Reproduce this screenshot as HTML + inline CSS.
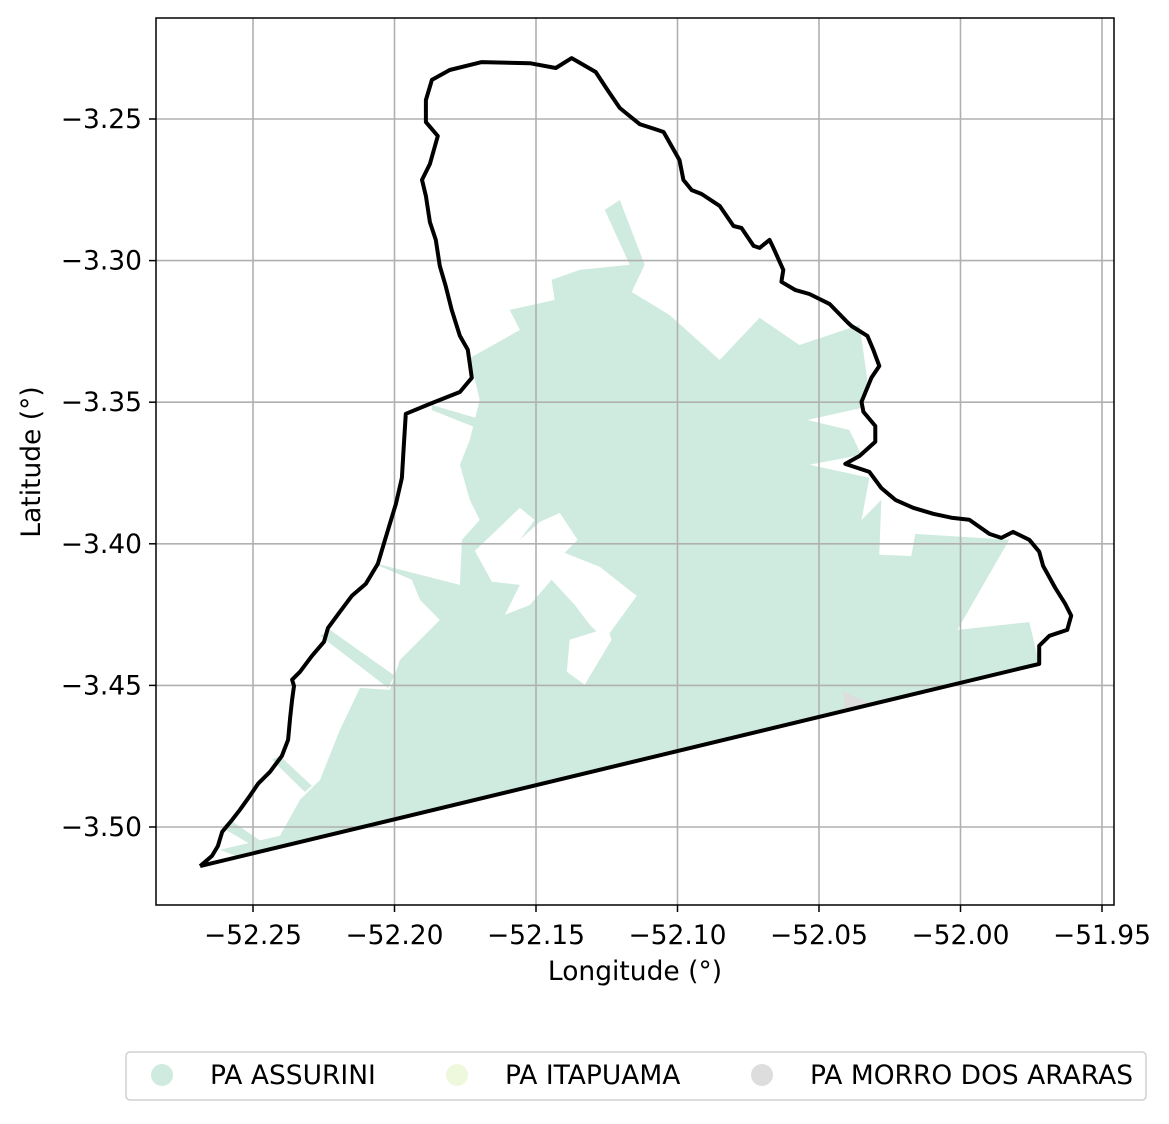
<!DOCTYPE html>
<html><head><meta charset="utf-8"><style>
body{margin:0;background:#fff;font-family:"Liberation Sans","DejaVu Sans",sans-serif}
svg text{font-family:"DejaVu Sans","Liberation Sans",sans-serif}
</style></head><body>
<svg id="chart" width="1169" height="1119" xmlns="http://www.w3.org/2000/svg">
<rect width="1169" height="1119" fill="#fff"/>
<g id="fills"></g>
<g id="grid"></g>
<g id="outline"></g>
<rect x="156" y="18" width="958" height="887" fill="none" stroke="#000" stroke-width="1.5"/>
<g id="xticks"></g>
<g id="yticks"></g>
<text x="635" y="980" font-size="26.5" text-anchor="middle">Longitude (°)</text>
<text transform="translate(40,462) rotate(-90)" font-size="26.5" text-anchor="middle">Latitude (°)</text>
<g>
<rect x="126" y="1052" width="1020" height="48" rx="4" fill="#fff" stroke="#d0d0d0" stroke-width="1.5"/>
<g><circle cx="162" cy="1075" r="11" fill="#cfebdf"/><text x="210" y="1084" font-size="26.5">PA ASSURINI</text></g>
<g><circle cx="457" cy="1075" r="11" fill="#edf8dc"/><text x="505" y="1084" font-size="26.5">PA ITAPUAMA</text></g>
<g><circle cx="762" cy="1075" r="11" fill="#dddddd"/><text x="810" y="1084" font-size="26.5">PA MORRO DOS ARARAS</text></g>
</g>
</svg>
<script>
const xTicks=[-52.25,-52.20,-52.15,-52.10,-52.05,-52.00,-51.95];
const yTicks=[-3.25,-3.30,-3.35,-3.40,-3.45,-3.50];
const boundaryLon=[-52.2687,-52.2645,-52.2624,-52.2609,-52.2574,-52.2546,-52.2511,-52.2482,-52.2440,-52.2398,-52.2376,-52.2369,-52.2362,-52.2355,-52.2362,-52.2334,-52.2292,-52.2249,-52.2235,-52.2193,-52.2151,-52.2101,-52.2059,-52.2023,-52.1995,-52.1974,-52.1967,-52.1960,-52.1875,-52.1769,-52.1727,-52.1741,-52.1769,-52.1798,-52.1819,-52.1840,-52.1854,-52.1875,-52.1889,-52.1903,-52.1875,-52.1847,-52.1889,-52.1889,-52.1868,-52.1805,-52.1692,-52.1522,-52.1430,-52.1374,-52.1289,-52.1247,-52.1204,-52.1134,-52.1070,-52.1049,-52.0993,-52.0979,-52.0950,-52.0915,-52.0851,-52.0802,-52.0774,-52.0731,-52.0710,-52.0675,-52.0661,-52.0626,-52.0633,-52.0583,-52.0534,-52.0463,-52.0400,-52.0385,-52.0329,-52.0308,-52.0287,-52.0315,-52.0350,-52.0343,-52.0301,-52.0301,-52.0357,-52.0407,-52.0322,-52.0280,-52.0230,-52.0167,-52.0096,-52.0032,-51.9969,-51.9898,-51.9856,-51.9814,-51.9757,-51.9722,-51.9708,-51.9665,-51.9630,-51.9609,-51.9623,-51.9686,-51.9722,-51.9722,-52.2687];
const boundaryLat=[-3.5138,-3.5102,-3.5067,-3.5017,-3.4975,-3.4939,-3.4890,-3.4847,-3.4805,-3.4749,-3.4692,-3.4615,-3.4551,-3.4502,-3.4480,-3.4452,-3.4396,-3.4346,-3.4297,-3.4240,-3.4184,-3.4141,-3.4071,-3.3951,-3.3859,-3.3767,-3.3654,-3.3541,-3.3506,-3.3464,-3.3414,-3.3315,-3.3266,-3.3174,-3.3090,-3.3019,-3.2927,-3.2864,-3.2772,-3.2715,-3.2659,-3.2560,-3.2511,-3.2433,-3.2362,-3.2327,-3.2299,-3.2303,-3.2320,-3.2285,-3.2334,-3.2398,-3.2461,-3.2518,-3.2539,-3.2546,-3.2645,-3.2715,-3.2751,-3.2765,-3.2807,-3.2878,-3.2885,-3.2948,-3.2955,-3.2927,-3.2955,-3.3033,-3.3075,-3.3104,-3.3118,-3.3153,-3.3217,-3.3231,-3.3266,-3.3315,-3.3372,-3.3414,-3.3499,-3.3534,-3.3584,-3.3640,-3.3690,-3.3718,-3.3746,-3.3803,-3.3845,-3.3873,-3.3894,-3.3908,-3.3915,-3.3965,-3.3979,-3.3958,-3.3986,-3.4028,-3.4078,-3.4156,-3.4212,-3.4254,-3.4304,-3.4325,-3.4360,-3.4424,-3.5138];
const assuriniLon=[-52.2617,-52.2405,-52.2334,-52.2263,-52.2193,-52.2122,-52.2016,-52.1981,-52.1840,-52.1910,-52.1939,-52.2087,-52.1769,-52.1762,-52.1699,-52.1734,-52.1769,-52.1734,-52.1699,-52.1734,-52.1557,-52.1593,-52.1434,-52.1445,-52.1346,-52.1169,-52.1257,-52.1204,-52.1116,-52.1162,-52.1028,-52.0851,-52.0710,-52.0569,-52.0357,-52.0329,-52.0350,-52.0541,-52.0393,-52.0350,-52.0534,-52.0322,-52.0350,-52.0280,-52.0287,-52.0174,-52.0160,-51.9828,-52.0011,-51.9757,-51.9722,-52.2546];
const assuriniLat=[-3.5080,-3.5031,-3.4904,-3.4833,-3.4657,-3.4509,-3.4516,-3.4410,-3.4269,-3.4198,-3.4127,-3.4064,-3.4145,-3.3986,-3.3916,-3.3845,-3.3721,-3.3633,-3.3492,-3.3344,-3.3245,-3.3174,-3.3139,-3.3068,-3.3033,-3.3015,-3.2821,-3.2786,-3.3015,-3.3111,-3.3192,-3.3351,-3.3202,-3.3298,-3.3227,-3.3421,-3.3520,-3.3563,-3.3598,-3.3686,-3.3721,-3.3767,-3.3916,-3.3845,-3.4039,-3.4043,-3.3965,-3.3986,-3.4304,-3.4276,-3.4424,-3.5108];
const stripsLon=[[-52.2263,-52.2228,-52.1999,-52.2023],[-52.2433,-52.2405,-52.2292,-52.2317],[-52.1868,-52.1628,-52.1646,-52.1868],[-52.2609,-52.2581,-52.2447,-52.2475]];
const stripsLat=[[-3.4325,-3.4304,-3.4466,-3.4509],[-3.4763,-3.4749,-3.4855,-3.4876],[-3.3510,-3.3580,-3.3616,-3.3528],[-3.5003,-3.4975,-3.5067,-3.5081]];
const holesLon=[[-52.1716,-52.1557,-52.1505,-52.1557,-52.1487,-52.1416,-52.1353,-52.1399,-52.1275,-52.1144,-52.1257,-52.1310,-52.1363,-52.1445,-52.1522,-52.1610,-52.1557,-52.1656],[-52.1381,-52.1247,-52.1233,-52.1328,-52.1391]];
const holesLat=[[-3.4025,-3.3873,-3.3916,-3.3986,-3.3923,-3.3891,-3.3986,-3.4032,-3.4081,-3.4184,-3.4339,-3.4286,-3.4216,-3.4127,-3.4216,-3.4251,-3.4145,-3.4134],[-3.4339,-3.4297,-3.4339,-3.4498,-3.4452]];
const araraLon=[-52.0414,-52.0410,-52.0322];
const araraLat=[-3.4523,-3.4583,-3.4562];

const NS="http://www.w3.org/2000/svg";
const xs=v=>253+(v+52.25)/0.05*141.5;
const ys=v=>119+(-3.25-v)/0.05*141.6;
function pts(lo,la){return lo.map((v,i)=>xs(v).toFixed(1)+","+ys(la[i]).toFixed(1)).join(" ");}
function mk(tag,parent){const e=document.createElementNS(NS,tag);document.getElementById(parent).appendChild(e);return e;}

let p=mk("polygon","fills");p.setAttribute("points",pts(assuriniLon,assuriniLat));p.setAttribute("fill","#cfebdf");


stripsLon.forEach((lo,i)=>{const s=mk("polygon","fills");s.setAttribute("points",pts(lo,stripsLat[i]));s.setAttribute("fill","#cfebdf");

});
holesLon.forEach((lo,i)=>{const s=mk("polygon","fills");s.setAttribute("points",pts(lo,holesLat[i]));s.setAttribute("fill","#fff");

});
let a=mk("polygon","fills");a.setAttribute("points",pts(araraLon,araraLat));a.setAttribute("fill","#dddddd");



xTicks.forEach(t=>{const x=xs(t);
const l=mk("line","grid");l.setAttribute("x1",x);l.setAttribute("x2",x);l.setAttribute("y1",18);l.setAttribute("y2",905);l.setAttribute("stroke","#b0b0b0");l.setAttribute("stroke-width","1.6");


const tk=mk("line","xticks");tk.setAttribute("x1",x);tk.setAttribute("x2",x);tk.setAttribute("y1",905);tk.setAttribute("y2",912);tk.setAttribute("stroke","#000");tk.setAttribute("stroke-width","1.5");


const tx=mk("text","xticks");tx.setAttribute("x",x);tx.setAttribute("y",944);tx.setAttribute("font-size","26.5");tx.setAttribute("text-anchor","middle");tx.textContent="\u2212"+Math.abs(t).toFixed(2);

});
yTicks.forEach(t=>{const y=ys(t);
const l=mk("line","grid");l.setAttribute("x1",156);l.setAttribute("x2",1114);l.setAttribute("y1",y);l.setAttribute("y2",y);l.setAttribute("stroke","#b0b0b0");l.setAttribute("stroke-width","1.6");


const tk=mk("line","yticks");tk.setAttribute("x1",149);tk.setAttribute("x2",156);tk.setAttribute("y1",y);tk.setAttribute("y2",y);tk.setAttribute("stroke","#000");tk.setAttribute("stroke-width","1.5");


const tx=mk("text","yticks");tx.setAttribute("x",142);tx.setAttribute("y",y+9);tx.setAttribute("font-size","26.5");tx.setAttribute("text-anchor","end");tx.textContent="\u2212"+Math.abs(t).toFixed(2);

});

const b=mk("polyline","outline");b.setAttribute("points",pts(boundaryLon,boundaryLat));b.setAttribute("fill","none");b.setAttribute("stroke","#000");b.setAttribute("stroke-width","4");b.setAttribute("stroke-linejoin","round");


</script>
</body></html>
